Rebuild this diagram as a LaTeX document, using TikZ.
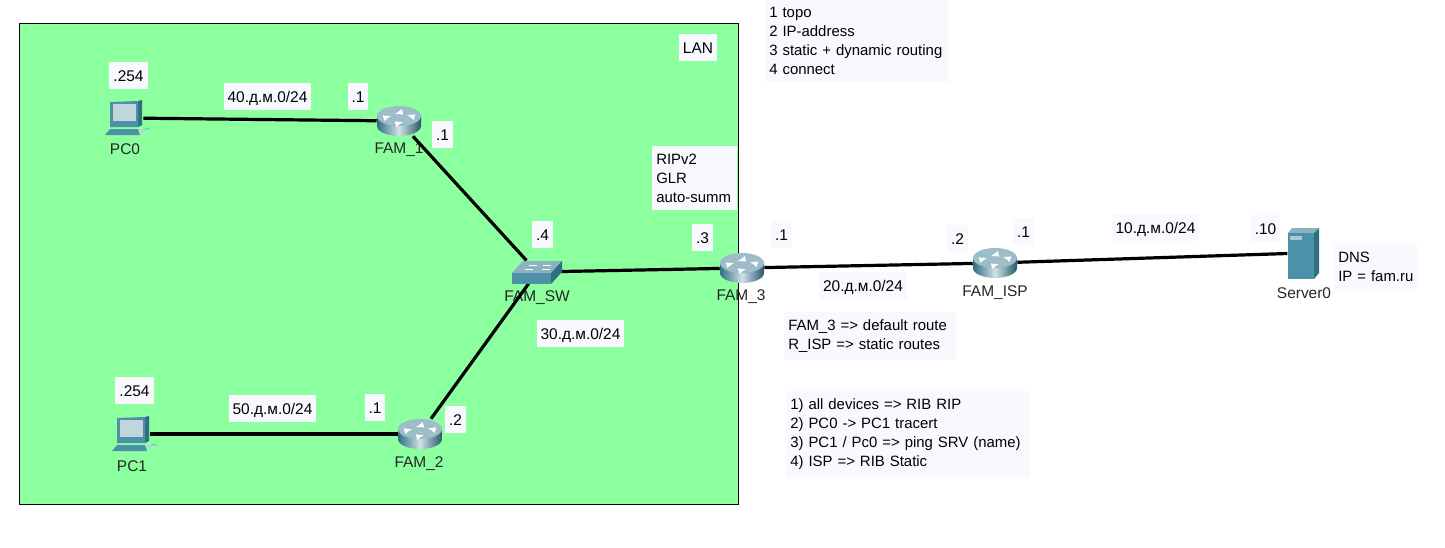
\documentclass[tikz,border=0pt]{standalone}
\usepackage{fontspec}
\setmainfont{Liberation Sans}
\usepackage{tikz}
\usetikzlibrary{positioning}
\definecolor{lanfill}{RGB}{140,255,158}
\definecolor{tagfill}{RGB}{248,249,255}
\definecolor{devdark}{RGB}{48,110,132}
\definecolor{devmid}{RGB}{76,145,168}
\definecolor{devlight}{RGB}{140,178,192}
\tikzset{
	txt/.style={font=\fontsize{11.6}{14.25}\selectfont},
	tag/.style={txt,fill=tagfill,inner xsep=3pt,inner ysep=0pt,text height=10.5pt,text depth=1.5pt,minimum height=20.25pt},
	note/.style={font=\fontsize{11.2}{14.25}\selectfont,fill=tagfill,anchor=north west,inner xsep=3pt,inner ysep=5.5pt,align=left},
	devname/.style={txt,inner sep=0pt,text=black!85},
	router/.style={minimum width=33pt,minimum height=22.5pt,inner sep=0pt},
	pc/.style={minimum width=27pt,minimum height=20pt,inner sep=0pt},
	swbox/.style={minimum width=36pt,minimum height=17pt,inner sep=0pt},
	srv/.style={minimum width=23pt,minimum height=37pt,inner sep=0pt},
	link/.style={line width=2.4pt,black},
	routericon/.pic={
		\shade[left color=devdark,right color=devdark!80!black,middle color=devlight!40!white]
			(-22,-5) -- (-22,5) arc[start angle=180,end angle=0,x radius=22,y radius=10] -- (22,-5) -- cycle;
		\fill[devlight!85!white] (0,-5) ellipse[x radius=22,y radius=10];
		\foreach \s/\t in {-15/-3,-3/3,15/-4,3/-9}
			\draw[white,line width=1pt,-latex] (\s,\t) -- ++({\s>0?-7:7},{\t>-5?-2:2});
	},
	pcicon/.pic={
		\fill[devmid] (-20,17) -- (-15,11) -- (13,11) -- (15,17) -- cycle;
		\fill[devdark] (13,-17) -- (17,-18) -- (17,7) -- (13,9) -- cycle;
		\fill[devmid] (-15,-16) -- (13,-17) -- (13,9) -- (-15,9) -- cycle;
		\fill[devlight!55!white] (-12,-14) rectangle (11,3);
		\draw[devlight,line width=.6pt] (17,13) -- (22,10) -- (25,12);
		\fill[devlight!60!white] (17,13) ellipse[x radius=3,y radius=2];
	},
	swicon/.pic={
		\fill[devlight] (-25,1) -- (-14,-11) -- (25,-11) -- (14,1) -- cycle;
		\fill[devmid] (-25,1) rectangle (14,12);
		\fill[devdark] (14,1) -- (25,-11) -- (25,0) -- (14,12) -- cycle;
		\foreach \s/\t in {-8/-7,6/-7,-12/-3,5/-3}
			\draw[white,line width=.6pt] (\s,\t) -- ++(8,0);
	},
	srvicon/.pic={
		\fill[devlight] (-15,-20) -- (-11,-25) -- (16,-25) -- (11,-20) -- cycle;
		\fill[devmid] (-15,-20) rectangle (11,26);
		\fill[devdark] (11,-20) -- (16,-25) -- (16,20) -- (11,26) -- cycle;
		\fill[devlight!70!white] (-13,-17) rectangle (-1,-13);
	},
}
\begin{document}
\begin{tikzpicture}[x=0.75pt,y=-0.75pt]
	\useasboundingbox (0,0) rectangle (1445,547);
	\fill[white] (0,0) rectangle (1445,547);
	\draw[fill=lanfill,line width=.75pt] (19,23) rectangle (738,504);
	% devices
	\node[pc] (pc0) at (125,118) {};
	\node[pc] (pc1) at (132,434) {};
	\node[router] (fam1) at (399,121) {};
	\node[router] (fam2) at (420,434) {};
	\node[router] (fam3) at (742,268) {};
	\node[router] (famisp) at (995,263) {};
	\node[swbox] (famsw) at (537,272) {};
	\node[srv] (server0) at (1303,253) {};
	\node[devname] (pc0name) at (125,149) {PC0};
	\node[devname] (pc1name) at (132,466) {PC1};
	\node[devname] (fam1name) at (399,150) {FAM\_1};
	\node[devname] (fam2name) at (419,464) {FAM\_2};
	\node[devname] (fam3name) at (741,297) {FAM\_3};
	\node[devname] (famispname) at (995,293) {FAM\_ISP};
	\node[devname] (famswname) at (537,298) {FAM\_SW};
	\node[devname] (server0name) at (1304,293) {Server0};
	% links
	\path[link]
		(pc0) edge (fam1)
		(pc1) edge (fam2)
		(fam1) edge (famsw)
		(fam2) edge (famsw)
		(famsw) edge (fam3)
		(fam3) edge (famisp)
		(famisp) edge (server0);
	\pic at (pc0) {pcicon};
	\pic at (pc1) {pcicon};
	\pic at (fam1) {routericon};
	\pic at (fam2) {routericon};
	\pic at (fam3) {routericon};
	\pic at (famisp) {routericon};
	\pic at (famsw) {swicon};
	\pic at (server0) {srvicon};
	% addresses
	\node[tag] (t254a) at (128.5,75.5) {.254};
	\node[tag] (t40) at (267.5,96.5) {40.д.м.0/24};
	\node[tag] (t1a) at (358,96.5) {.1};
	\node[tag] (t1b) at (442.5,134.5) {.1};
	\node[tag] (t254b) at (134.5,390.5) {.254};
	\node[tag] (t50) at (272.5,408.5) {50.д.м.0/24};
	\node[tag] (t1c) at (375,407.5) {.1};
	\node[tag] (t2a) at (455.5,419.5) {.2};
	\node[tag] (t4) at (542.5,234.5) {.4};
	\node[tag] (t3) at (702.5,237.5) {.3};
	\node[tag] (t30) at (580.5,333.5) {30.д.м.0/24};
	\node[tag] (t1d) at (781.5,234.5) {.1};
	\node[tag] (t20) at (863,285.5) {20.д.м.0/24};
	\node[tag] (t2b) at (957.5,238.5) {.2};
	\node[tag] (t1e) at (1023.5,231.5) {.1};
	\node[tag] (t10) at (1155.5,227.5) {10.д.м.0/24};
	\node[tag] (t10b) at (1265.5,228.5) {.10};
	\node[tag] (lan) at (698,47.5) {LAN};
	% notes
	\node[note,text width=131.25pt] (todo) at (765,0) {1 topo\\2 IP-address\\3 static + dynamic routing\\4 connect};
	\node[note,text width=57.75pt] (rip) at (652,146) {RIPv2\\GLR\\auto-summ};
	\node[note,text width=123pt] (routes) at (784,312) {FAM\_3 => default route\\R\_ISP => static routes};
	\node[note,text width=177pt] (checks) at (786,391) {1) all devices => RIB RIP\\2) PC0 -> PC1 tracert\\3) PC1 / Pc0 => ping SRV (name)\\4) ISP => RIB Static};
	\node[note,text width=56.25pt] (dns) at (1334,244) {DNS\\\mbox{IP = fam.ru}};
\end{tikzpicture}
\end{document}
